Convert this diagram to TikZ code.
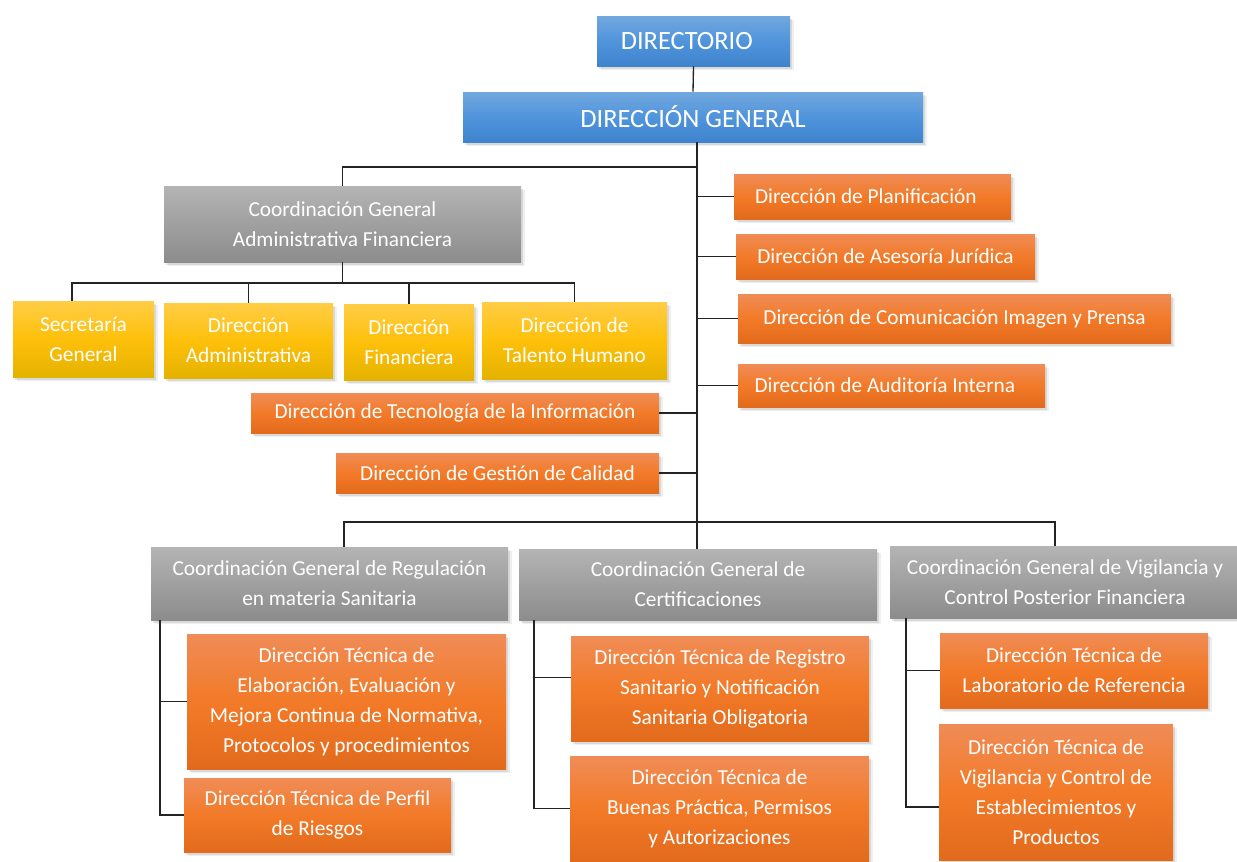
\documentclass[tikz,border=0pt]{standalone}
\usepackage{fontspec}
\setmainfont{Carlito}
\usetikzlibrary{shadows}
\definecolor{blueT}{RGB}{114,168,222}
\definecolor{blueM}{RGB}{80,148,220}
\definecolor{blueB}{RGB}{62,131,204}
\definecolor{grayT}{RGB}{180,180,180}
\definecolor{grayM}{RGB}{160,160,160}
\definecolor{grayB}{RGB}{140,140,140}
\definecolor{yelT}{RGB}{255,205,70}
\definecolor{yelM}{RGB}{254,192,10}
\definecolor{yelB}{RGB}{228,178,0}
\definecolor{orT}{RGB}{240,140,86}
\definecolor{orM}{RGB}{242,122,40}
\definecolor{orB}{RGB}{226,106,28}
\definecolor{lineC}{RGB}{35,35,35}
\newcommand\bx[7]{\node[#6, minimum width={(#4-#2)*0.75pt}, minimum height={(#5-#3)*0.75pt}] (#1) at ({(#2+#4)/2},{(#3+#5)/2}) {#7};}
\tikzset{
  box/.style={draw=none, inner sep=1pt, align=center, text=white,
    font=\fontsize{16}{22.5}\selectfont,
    drop shadow={shadow xshift=1.5pt, shadow yshift=-2pt, opacity=.2},
    drop shadow={shadow xshift=2.8pt, shadow yshift=-3.3pt, opacity=.13}},
  bluebox/.style={box, top color=blueT, bottom color=blueB, middle color=blueM, font=\fontsize{19.8}{24}\selectfont},
  graybox/.style={box, top color=grayT, bottom color=grayB, middle color=grayM},
  yelbox/.style={box, top color=yelT, bottom color=yelB, middle color=yelM},
  orbox/.style={box, top color=orT, bottom color=orB, middle color=orM},
  conn/.style={draw=lineC, line width=1pt}
}
\begin{document}
\begin{tikzpicture}[x=0.75pt,y=-0.75pt]
\useasboundingbox (0,0) rectangle (1237,861);
% coordinates for connector columns
\coordinate (trunk) at (697,0);
\coordinate (x72) at (72,0);
\coordinate (x344) at (344,0);
\coordinate (x1055) at (1055,0);
\coordinate (x160) at (160,0);
\coordinate (x534) at (534,0);
\coordinate (x906) at (906,0);
\coordinate (j1) at (697,167);
\coordinate (b1) at (342.5,283);
\coordinate (j3) at (697,522);

% boxes
\bx{dir}{597}{16}{790}{66}{bluebox}{DIRECTORIO\hspace*{10pt}}
\bx{dg}{463}{92}{923}{142}{bluebox}{DIRECCIÓN GENERAL}
\bx{cgaf}{164}{186}{521}{262}{graybox}{Coordinación General\\Administrativa Financiera}
\bx{sg}{13}{301}{154}{377}{yelbox}{Secretaría\\General}
\bx{da}{164}{303}{333}{378}{yelbox}{Dirección\\Administrativa}
\bx{df}{344}{304}{474}{380}{yelbox}{Dirección\\Financiera}
\bx{th}{482}{302}{667}{379}{yelbox}{Dirección de\\Talento Humano}
\bx{tec}{251}{393}{659}{433}{orbox}{Dirección de Tecnología de la Información}
\bx{cal}{336}{453}{659}{493}{orbox}{Dirección de Gestión de Calidad}
\bx{plan}{734}{174}{1011}{219}{orbox}{Dirección de Planificación\hspace*{10pt}}
\bx{jur}{736}{234}{1035}{279}{orbox}{Dirección de Asesoría Jurídica}
\bx{com}{738}{294}{1171}{343}{orbox}{Dirección de Comunicación Imagen y Prensa}
\bx{aud}{738}{364}{1045}{407}{orbox}{Dirección de Auditoría Interna\hspace*{10pt}}
\bx{cgr}{151}{547}{508}{620}{graybox}{Coordinación General de Regulación\\en materia Sanitaria}
\bx{cgc}{519}{549}{877}{620}{graybox}{Coordinación General de\\Certificaciones}
\bx{cgv}{890}{546}{1240}{618}{graybox}{Coordinación General de Vigilancia y\\Control Posterior Financiera}
\bx{elab}{187}{634}{506}{769}{orbox}{Dirección Técnica de\\Elaboración, Evaluación y\\Mejora Continua de Normativa,\\Protocolos y procedimientos}
\bx{per}{184}{778}{451}{852}{orbox}{Dirección Técnica de Perfil\\de Riesgos}
\bx{reg}{571}{636}{869}{741}{orbox}{Dirección Técnica de Registro\\Sanitario y Notificación\\Sanitaria Obligatoria}
\bx{bue}{570}{756}{869}{861}{orbox}{Dirección Técnica de\\Buenas Práctica, Permisos\\y Autorizaciones}
\bx{lab}{940}{633}{1208}{708}{orbox}{Dirección Técnica de\\Laboratorio de Referencia}
\bx{vig}{939}{724}{1173}{860}{orbox}{Dirección Técnica de\\Vigilancia y Control de\\Establecimientos y\\Productos}

% connectors
\draw[conn] (dir.south) -- (dg.north);
\draw[conn] (dg.south -| trunk) -- (j3);
\draw[conn] (j1) -| (cgaf.north);
\draw[conn] (cgaf.south) -- (b1);
\draw[conn] (sg.north -| x72) |- (b1);
\draw[conn] (th.north) |- (b1);
\draw[conn] (da.north) -- (da.north |- b1);
\draw[conn] (df.north) -- (df.north |- b1);
\draw[conn] (plan.west) -- (plan.west -| trunk);
\draw[conn] (jur.west) -- (jur.west -| trunk);
\draw[conn] (com.west) -- (com.west -| trunk);
\draw[conn] (aud.west) -- (aud.west -| trunk);
\draw[conn] (tec.east) -- (tec.east -| trunk);
\draw[conn] (cal.east) -- (cal.east -| trunk);
\draw[conn] (cgr.north -| x344) |- (j3) -| (cgv.north -| x1055);
\draw[conn] (cgc.north -| trunk) -- (j3);
\draw[conn] (cgr.south -| x160) |- (per.west);
\draw[conn] (elab.west) -- (elab.west -| x160);
\draw[conn] (cgc.south -| x534) |- (bue.west);
\draw[conn] ([yshift=8.25pt]reg.west) -- ([yshift=8.25pt]reg.west -| x534);
\draw[conn] (cgv.south -| x906) |- ([yshift=-11.25pt]vig.west);
\draw[conn] (lab.west) -- (lab.west -| x906);
\end{tikzpicture}
\end{document}
